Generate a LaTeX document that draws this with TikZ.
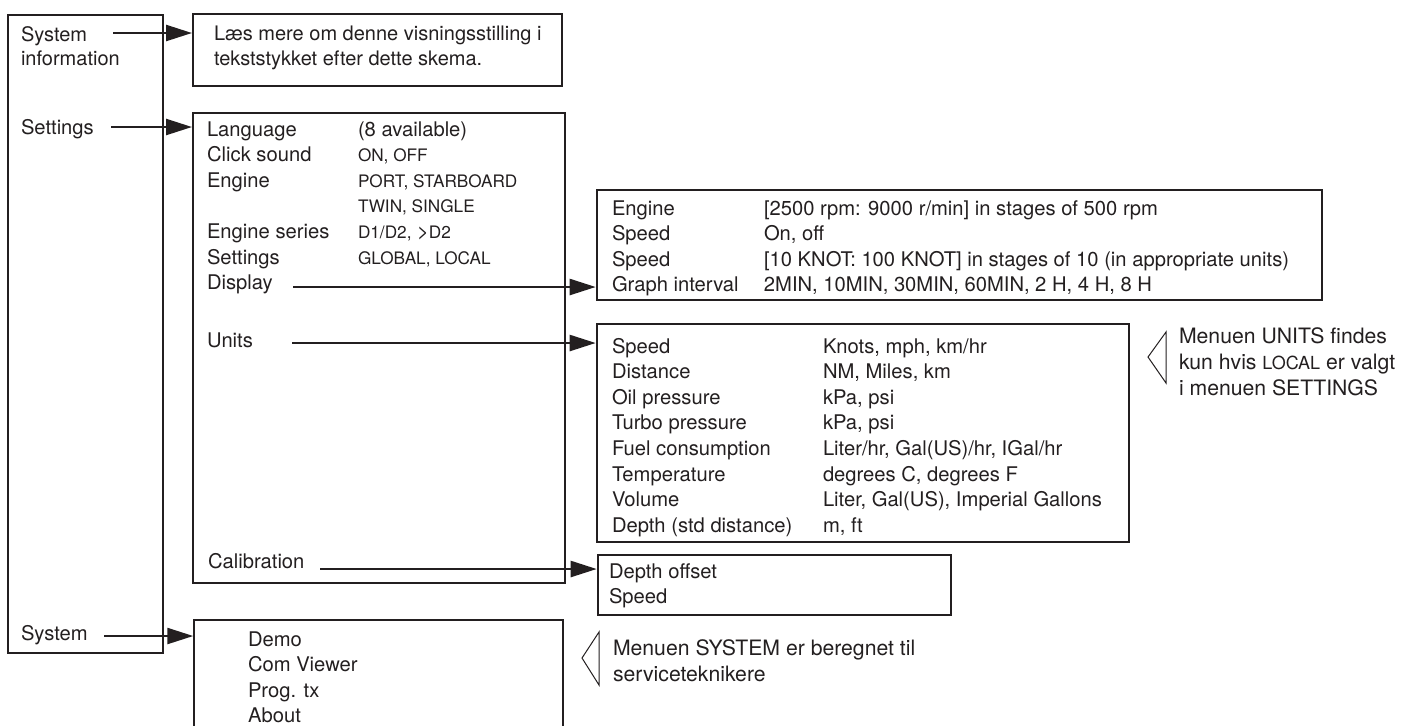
\documentclass[tikz,border=0pt]{standalone}
\usepackage{fontspec}
\setmainfont{TeX Gyre Heros}
\usetikzlibrary{arrows.meta,positioning,fit}
\definecolor{inkgray}{HTML}{231F20}

\newcommand{\capsize}{\fontsize{8.6}{12.8}\selectfont}
\newcommand{\notesize}{\fontsize{10.6}{12.8}\selectfont}

\tikzset{
  panel/.style={draw=inkgray, line width=1pt, inner sep=0pt},
  thinpanel/.style={panel, line width=0.65pt},
  heavypanel/.style={panel, line width=1.3pt},
  entry/.style={anchor=base west, inner sep=0pt, text=inkgray},
  rows/.style={anchor=north west, inner sep=0pt, text=inkgray},
  textblock/.style={anchor=north west, inner sep=0pt, align=left, text=inkgray},
  note/.style={textblock, font=\notesize},
  pointer/.style={draw=inkgray, line width=1.2pt, -{Triangle[length=13pt,width=8pt]}},
  hint/.style={draw=inkgray, line width=0.5pt},
}

\begin{document}
\begin{tikzpicture}[x=0.5pt, y=-0.5pt, line width=1pt, font=\fontsize{10.1}{12.8}\selectfont]
  \useasboundingbox (0,0) rectangle (1401,725);

  % main menu column
  \node[thinpanel, fit={(8,15) (163,653)}] (mainmenu) {};
  \node[textblock, font=\fontsize{10}{12}\selectfont] (sysinfo) at (20,25.7) {System\\information};
  \node[entry] (settingslbl) at (20,134) {Settings};
  \node[entry] (systemlbl) at (20,640) {System};

  % system information
  \node[panel, fit={(193,14) (562,86)}] (infobox) {};
  \node[textblock, font=\fontsize{10}{12.5}\selectfont] (infotext) at (213,24.7)
    {Læs mere om denne visningsstilling i\\tekststykket efter dette skema.};

  % settings
  \node[panel, fit={(193,113) (565,583)}] (setbox) {};
  \node[rows] (setrows) at (206,117.1) {\begin{tabular}{@{}p{75.5pt}@{}l@{}}
    Language & (8 available)\\
    Click sound & {\capsize ON, OFF}\\
    Engine & {\capsize PORT, STARBOARD}\\
     & {\capsize TWIN, SINGLE}\\
    Engine series & {\capsize D1/D2,} >{\capsize D2}\\
    Settings & {\capsize GLOBAL, LOCAL}\\
    Display &
  \end{tabular}};
  \node[entry] (unitslbl) at (206,347) {Units};
  \node[entry] (callbl) at (207,568) {Calibration};

  % display
  \node[heavypanel, fit={(597,190) (1322,300)}] (dispbox) {};
  \node[rows] (disprows) at (611,196.1) {\begin{tabular}{@{}p{76pt}@{}l@{}}
    Engine & [2500 rpm: 9000 r/min] in stages of 500 rpm\\
    Speed & On, off\\
    Speed & [10 KNOT: 100 KNOT] in stages of 10 (in appropriate units)\\
    Graph interval & 2MIN, 10MIN, 30MIN, 60MIN, 2 H, 4 H, 8 H
  \end{tabular}};

  % units
  \node[heavypanel, fit={(597,324) (1129,542)}] (unitbox) {};
  \node[rows] (unitrows) at (611,334.1) {\begin{tabular}{@{}p{105.5pt}@{}l@{}}
    Speed & Knots, mph, km/hr\\
    Distance & NM, Miles, km\\
    Oil pressure & kPa, psi\\
    Turbo pressure & kPa, psi\\
    Fuel consumption & Liter/hr, Gal(US)/hr, IGal/hr\\
    Temperature & degrees C, degrees F\\
    Volume & Liter, Gal(US), Imperial Gallons\\
    Depth (std distance) & m, ft
  \end{tabular}};
  \draw[hint] (1166,332) -- (1148,357) -- (1166,383) -- cycle;
  \node[note] (unitsnote) at (1178,327)
    {Menuen UNITS findes\\kun hvis {\fontsize{9}{12.8}\selectfont LOCAL} er valgt\\i menuen SETTINGS};

  % calibration
  \node[heavypanel, fit={(598,555) (951,615)}] (calbox) {};
  \node[rows] (calrows) at (608,559.1) {\begin{tabular}{@{}l@{}}
    Depth offset\\
    Speed
  \end{tabular}};

  % system (box runs on below the page edge)
  \node[panel, line width=0.75pt, fit={(194,620) (563,740)}] (sysbox) {};
  \node[rows] (sysrows) at (247,627.1) {\begin{tabular}{@{}l@{}}
    Demo\\
    Com Viewer\\
    Prog. tx\\
    About
  \end{tabular}};
  \draw[hint] (599,632) -- (582,658) -- (599,685) -- cycle;
  \node[note] (systemnote) at (612,639) {Menuen SYSTEM er beregnet til\\serviceteknikere};

  % pointers
  \coordinate (sysinfo-tail) at (113,33);
  \coordinate (settings-tail) at (111,127);
  \coordinate (display-tail) at (293,287);
  \coordinate (units-tail) at (292,343);
  \coordinate (cal-tail) at (320,569);
  \coordinate (system-tail) at (104,636);
  \draw[pointer] (sysinfo-tail) -- (sysinfo-tail -| infobox.west);
  \draw[pointer] (settings-tail) -- (settings-tail -| setbox.west);
  \draw[pointer] (display-tail) -- (display-tail -| dispbox.west);
  \draw[pointer] (units-tail) -- (units-tail -| unitbox.west);
  \draw[pointer] (cal-tail) -- (cal-tail -| calbox.west);
  \draw[pointer] (system-tail) -- (system-tail -| sysbox.west);
\end{tikzpicture}
\end{document}
